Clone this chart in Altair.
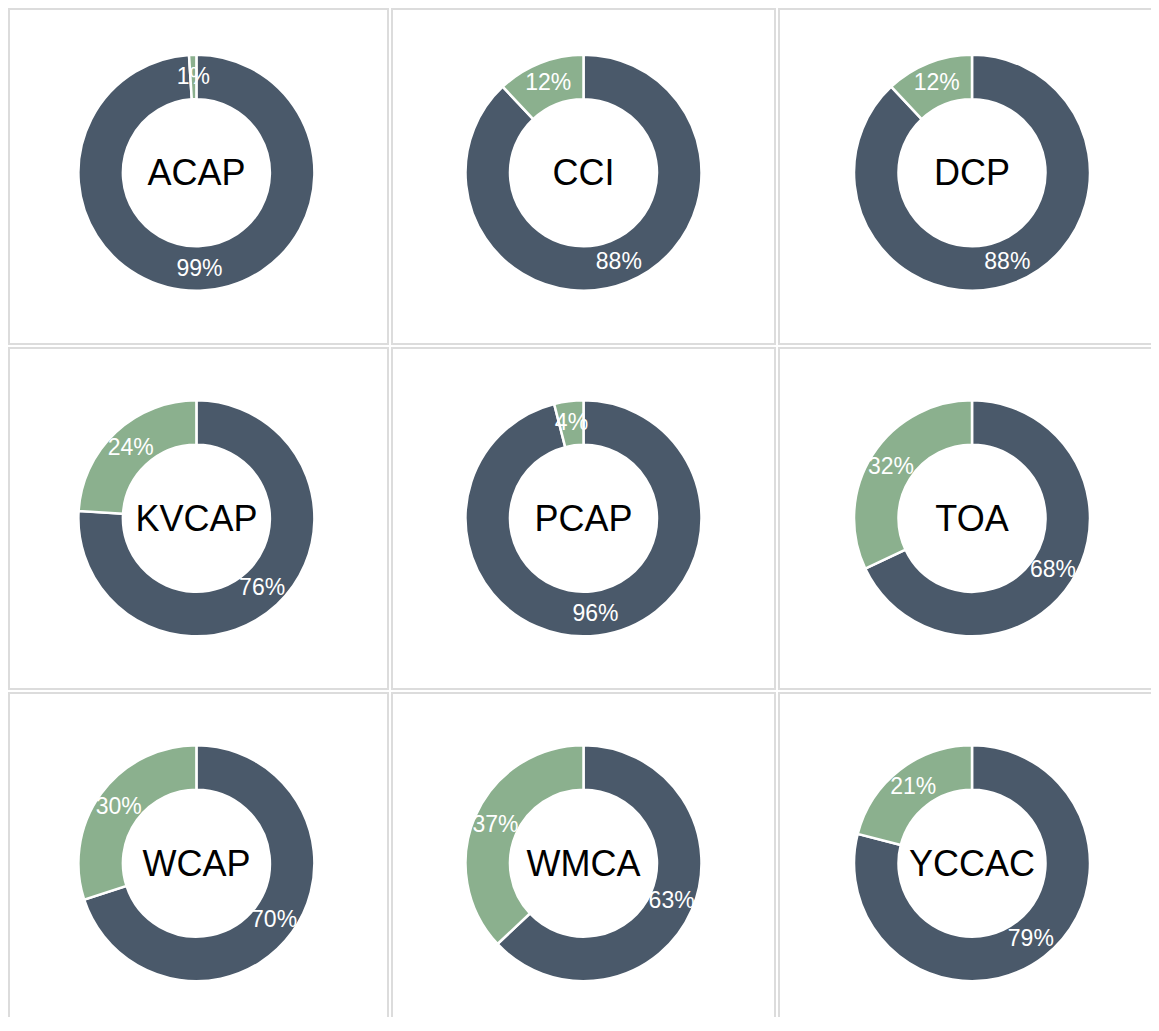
import altair as alt
import pandas as pd

orgs = ["ACAP", "CCI", "DCP", "KVCAP", "PCAP", "TOA", "WCAP", "WMCA", "YCCAC"]
share_yes = [99, 88, 88, 76, 96, 68, 70, 63, 79]
share_no = [1, 12, 12, 24, 4, 32, 30, 37, 21]
groups = ["Yes", "No"]
colors = ["#4a596a", "#8bb08e"]

rows = []
for o, y, n in zip(orgs, share_yes, share_no):
    rows.append({"org": o, "group": "Yes", "order": 0, "value": y, "label": f"{y}%"})
    rows.append({"org": o, "group": "No", "order": 1, "value": n, "label": f"{n}%"})
df = pd.DataFrame(rows)

# panel layout (pixels)
col_widths = [379, 383, 383]
col_cx = [187.4, 191.5, 193.0]
row_heights = [335, 341, 341]
row_cy = [163.7, 170.3, 170.2]
FONT = "Liberation Sans, Arial, sans-serif"


def panel(org, w, h, cx, cy):
    base = (
        alt.Chart()
        .transform_filter(alt.datum.org == org)
        .encode(
            theta=alt.Theta("value:Q", stack=True),
            order=alt.Order("order:Q"),
            x=alt.value(cx),
            y=alt.value(cy),
        )
    )
    arcs = base.mark_arc(
        innerRadius=73.5, outerRadius=118, stroke="white", strokeWidth=2.5
    ).encode(
        color=alt.Color(
            "group:N", scale=alt.Scale(domain=groups, range=colors), legend=None
        )
    )
    pct = base.mark_text(radius=96, fontSize=23, color="white", font=FONT).encode(
        text="label:N"
    )
    name = (
        alt.Chart()
        .transform_filter((alt.datum.org == org) & (alt.datum.order == 0))
        .mark_text(
            fontSize=36, font=FONT, color="black", baseline="alphabetic", align="center"
        )
        .encode(text="org:N", x=alt.value(cx), y=alt.value(cy + 12.5))
    )
    return alt.layer(arcs, pct, name).properties(width=w, height=h)


cells = []
for r in range(3):
    for c in range(3):
        org = orgs[r * 3 + c]
        cells.append(panel(org, col_widths[c], row_heights[r], col_cx[c], row_cy[r]))

chart = (
    alt.concat(*cells, columns=3, spacing=4, bounds="flush", align="each", data=df)
    .properties(padding={"left": 0, "top": 0, "right": -12, "bottom": -18})
    .configure_view(stroke="#dcdcdc", strokeWidth=2)
)

chart.save("out.html", embed_options={"renderer": "svg", "actions": False})
